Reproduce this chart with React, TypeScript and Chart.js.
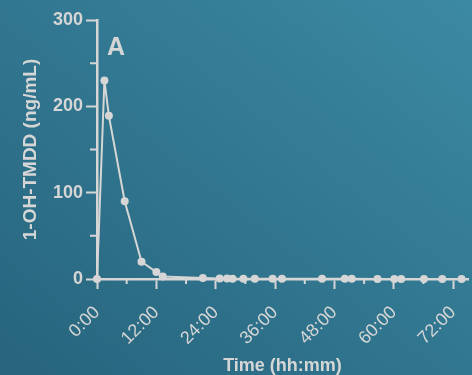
import React, { useEffect, useRef } from "react";
import { Chart, registerables } from "chart.js";

Chart.register(...registerables);

const timesH = [0, 1.5, 2.4, 5.6, 9, 12, 13.3, 21.4, 24.8, 26.3, 27.4, 29.6, 31.9, 35.5, 37.4, 45.5, 50.1, 51.5, 56.7, 60.1, 61.5, 66.1, 69.8, 73.7];
const conc = [0, 230, 189, 90, 20, 8, 3, 1.2, 0.6, 0.5, 0.4, 0.3, 0.3, 0.3, 0.2, 0.2, 0.2, 0.2, 0.1, 0.1, 0.1, 0.1, 0.1, 0.1];
const xMajorTicks = [0, 12, 24, 36, 48, 60, 72];
const xMinorTicks = [6, 18, 30, 42, 54, 66];
const yMajorTicks = [0, 100, 200, 300];
const yMinorTicks = [50, 150, 250];
const panelLabel = "A";
const xTitle = "Time (hh:mm)";
const yTitle = "1-OH-TMDD (ng/mL)";

const FG = "#d6d6d6";
const FONT = "'Liberation Sans', Arial, sans-serif";

function fmtTime(h: number) {
  const hh = Math.floor(h);
  const mm = Math.round((h - hh) * 60);
  return `${hh}:${String(mm).padStart(2, "0")}`;
}

export default function App() {
  const ref = useRef<HTMLCanvasElement | null>(null);

  useEffect(() => {
    if (!ref.current) return;
    const extras = {
      id: "extras",
      afterDraw(chart: any) {
        const { ctx, chartArea, scales } = chart;
        const xs = scales.x;
        const ys = scales.y;
        ctx.save();
        ctx.strokeStyle = FG;
        ctx.lineWidth = 2;
        ctx.beginPath();
        for (const v of xMinorTicks) {
          const px = xs.getPixelForValue(v);
          ctx.moveTo(px, chartArea.bottom);
          ctx.lineTo(px, chartArea.bottom + 5);
        }
        for (const v of yMinorTicks) {
          const py = ys.getPixelForValue(v);
          ctx.moveTo(chartArea.left - 7, py);
          ctx.lineTo(chartArea.left, py);
        }
        ctx.stroke();
        ctx.fillStyle = FG;
        ctx.font = `bold 25px ${FONT}`;
        ctx.textAlign = "left";
        ctx.textBaseline = "alphabetic";
        ctx.fillText(panelLabel, chartArea.left + 10, chartArea.top + 35);
        ctx.restore();
      },
    };

    const chart = new Chart(ref.current, {
      type: "line",
      data: {
        datasets: [
          {
            data: timesH.map((t, i) => ({ x: t, y: conc[i] })),
            borderColor: FG,
            backgroundColor: FG,
            borderWidth: 2,
            pointRadius: 4,
            pointBorderWidth: 0,
            pointBackgroundColor: FG,
            tension: 0,
            clip: false as any,
          },
        ],
      },
      options: {
        animation: false,
        responsive: false,
        layout: { padding: { top: 20, left: 0, right: 0, bottom: 0 } },
        plugins: { legend: { display: false }, tooltip: { enabled: false } },
        scales: {
          x: {
            type: "linear",
            min: 0,
            max: 75,
            afterBuildTicks(scale: any) {
              scale.ticks = xMajorTicks.map((v) => ({ value: v }));
            },
            afterFit(scale: any) {
              scale.height = 96;
              scale.paddingLeft = 0;
              scale.paddingRight = 0;
            },
            border: { display: true, color: FG, width: 2.5 },
            grid: { drawOnChartArea: false, drawTicks: true, tickLength: 10, tickColor: FG, tickWidth: 2 },
            ticks: {
              color: FG,
              font: { family: FONT, size: 18, weight: "normal" },
              minRotation: 45,
              maxRotation: 45,
              autoSkip: false,
              padding: 13,
              callback: (v: any) => fmtTime(Number(v)),
            },
            title: {
              display: true,
              text: xTitle,
              color: FG,
              font: { family: FONT, size: 18, weight: "bold", lineHeight: 1.0 },
              padding: { top: 0, bottom: 0 },
            },
          },
          y: {
            type: "linear",
            min: 0,
            max: 300,
            afterBuildTicks(scale: any) {
              scale.ticks = yMajorTicks.map((v) => ({ value: v }));
            },
            afterFit(scale: any) {
              scale.width = 97;
              scale.paddingTop = 0;
              scale.paddingBottom = 0;
            },
            border: { display: true, color: FG, width: 2.5 },
            grid: { drawOnChartArea: false, drawTicks: true, tickLength: 11, tickColor: FG, tickWidth: 2 },
            ticks: {
              color: FG,
              font: { family: FONT, size: 18, weight: "bold" },
              padding: 3,
              autoSkip: false,
            },
            title: {
              display: true,
              text: yTitle,
              color: FG,
              font: { family: FONT, size: 19, weight: "bold" },
              padding: { top: 19, bottom: 0 },
            },
          },
        },
      },
      plugins: [extras],
    });
    return () => chart.destroy();
  }, []);

  return (
    <div
      style={{
        position: "fixed",
        left: 0,
        top: 0,
        width: 472,
        height: 375,
        background: "linear-gradient(to top right, #27647d, #3c89a3)",
      }}
    >
      <canvas ref={ref} width={472} height={375} style={{ display: "block" }} />
    </div>
  );
}
